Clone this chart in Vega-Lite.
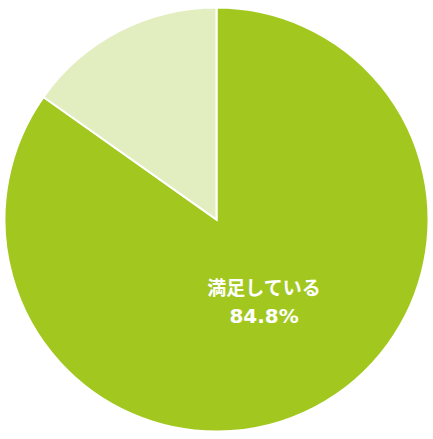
{
  "$schema": "https://vega.github.io/schema/vega-lite/v6.json",
  "width": 433,
  "height": 439,
  "autosize": {"type": "fit", "contains": "padding"},
  "padding": 0,
  "background": "white",
  "view": {"stroke": null},
  "data": {
    "values": [
      {"category": "満足している", "value": 84.8, "order": 1, "name": "満足している", "pct": "84.8%"},
      {"category": "その他", "value": 15.2, "order": 2, "name": "", "pct": ""}
    ]
  },
  "encoding": {
    "theta": {"field": "value", "type": "quantitative", "stack": true},
    "order": {"field": "order", "type": "quantitative"}
  },
  "layer": [
    {
      "mark": {"type": "arc", "outerRadius": 212, "stroke": "white", "strokeWidth": 2},
      "encoding": {
        "color": {
          "field": "category",
          "type": "nominal",
          "scale": {"domain": ["満足している", "その他"], "range": ["#a2c81f", "#e2eec0"]},
          "legend": null
        }
      }
    },
    {
      "mark": {"type": "text", "radius": 97, "dx": 3, "dy": -17, "color": "white", "font": "Noto Sans CJK JP", "fontSize": 19, "fontWeight": "bold", "align": "center", "baseline": "middle"},
      "encoding": {
        "text": {"field": "name", "type": "nominal"}
      }
    },
    {
      "mark": {"type": "text", "radius": 97, "dx": 3, "dy": 11, "color": "white", "font": "DejaVu Sans", "fontSize": 20, "fontWeight": "bold", "align": "center", "baseline": "middle"},
      "encoding": {
        "text": {"field": "pct", "type": "nominal"}
      }
    }
  ]
}
